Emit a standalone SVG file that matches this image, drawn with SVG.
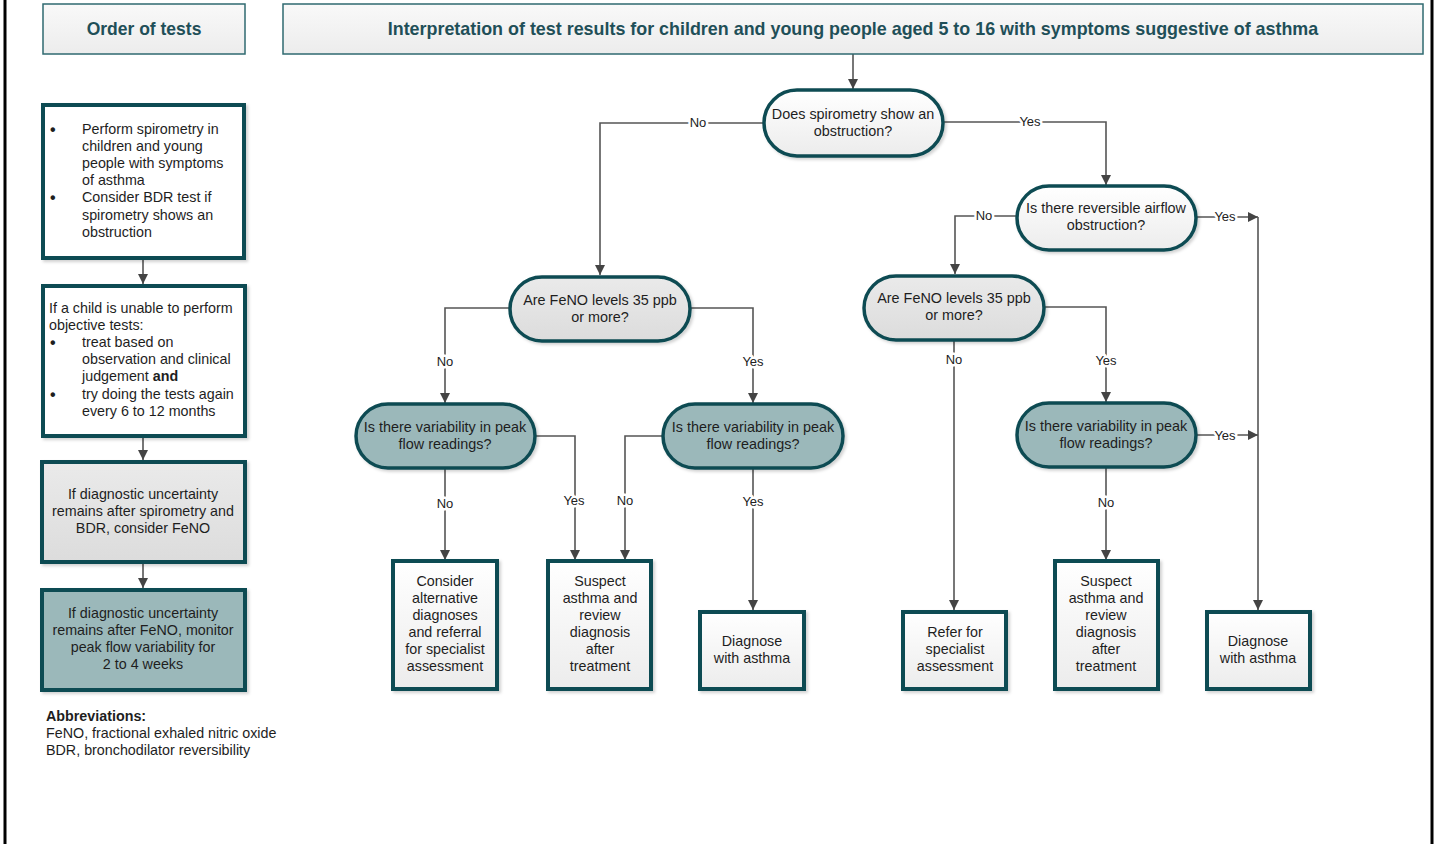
<svg xmlns="http://www.w3.org/2000/svg" width="1435" height="844" viewBox="0 0 1435 844">
<defs>
  <linearGradient id="gLight" x1="0" y1="0" x2="0" y2="1">
    <stop offset="0" stop-color="#ffffff"/>
    <stop offset="1" stop-color="#ececec"/>
  </linearGradient>
  <linearGradient id="gGray" x1="0" y1="0" x2="0" y2="1">
    <stop offset="0" stop-color="#eaeaea"/>
    <stop offset="1" stop-color="#dcdcdc"/>
  </linearGradient>
  <linearGradient id="gHead" x1="0" y1="0" x2="0" y2="1">
    <stop offset="0" stop-color="#f9f9f9"/>
    <stop offset="1" stop-color="#ececec"/>
  </linearGradient>
  <filter id="sh" x="-10%" y="-10%" width="130%" height="130%">
    <feDropShadow dx="2" dy="2" stdDeviation="1.5" flood-color="#000" flood-opacity="0.18"/>
  </filter>
  <marker id="ar" viewBox="0 0 10 10" refX="10" refY="5" markerWidth="10" markerHeight="10" markerUnits="userSpaceOnUse" orient="auto">
    <path d="M0,0 L10,5 L0,10 z" fill="#444"/>
  </marker>
</defs>
<style>
  text { font-family: "Liberation Sans", Arial, sans-serif; fill: #1e1e1e; }
  .t { font-size: 14.4px; text-anchor: middle; }
  .l { font-size: 14.3px; }
  .lc { font-size: 14.3px; text-anchor: middle; }
  .bul { font-size: 16px; font-weight: bold; }
  .head { font-size: 17.5px; font-weight: bold; fill: #1f4f58; text-anchor: middle; }
  .hbox { fill: url(#gHead); stroke: #2f6a70; stroke-width: 1.5; }
  .box { stroke: #0f4b52; stroke-width: 4; filter: url(#sh); }
  .pill { stroke: #0f4b52; stroke-width: 3.5; filter: url(#sh); }
  .white { fill: #ffffff; }
  .light { fill: url(#gLight); }
  .gray { fill: url(#gGray); }
  .teal { fill: #9bb8ba; }
  .ca { fill: none; stroke: #555; stroke-width: 1.6; marker-end: url(#ar); }
  .lab { font-size: 13px; text-anchor: middle; fill: #222; stroke: #fff; stroke-width: 5; paint-order: stroke; stroke-linejoin: round; }
</style>
<rect x="0" y="0" width="1435" height="844" fill="#fff"/>
<line x1="5" y1="0" x2="5" y2="844" stroke="#000" stroke-width="3"/>
<line x1="1432" y1="0" x2="1432" y2="844" stroke="#000" stroke-width="3"/>

<g id="connectors">
  <line class="ca" x1="143" y1="259" x2="143" y2="284"/>
  <line class="ca" x1="143" y1="437" x2="143" y2="460"/>
  <line class="ca" x1="143" y1="563" x2="143" y2="588"/>
  <line class="ca" x1="853" y1="54" x2="853" y2="89"/>
  <path class="ca" d="M764,123 H600 V275"/>
  <path class="ca" d="M943,122 H1106 V185"/>
  <path class="ca" d="M1017,216 H955 V274"/>
  <path class="ca" d="M1196,217 H1258"/>
  <path class="ca" d="M1258,217 V610"/>
  <path class="ca" d="M510,308 H445 V403"/>
  <path class="ca" d="M690,308 H753 V403"/>
  <path class="ca" d="M954,340 V610"/>
  <path class="ca" d="M1044,307 H1106 V402"/>
  <path class="ca" d="M445,468 V560"/>
  <path class="ca" d="M535,436 H575 V560"/>
  <path class="ca" d="M663,436 H625 V560"/>
  <path class="ca" d="M753,468 V610"/>
  <path class="ca" d="M1196,435 H1258"/>
  <path class="ca" d="M1106,467 V560"/>
  <text class="lab" x="698" y="127">No</text>
  <text class="lab" x="1030" y="126">Yes</text>
  <text class="lab" x="984" y="220">No</text>
  <text class="lab" x="1225" y="221">Yes</text>
  <text class="lab" x="445" y="366">No</text>
  <text class="lab" x="753" y="366">Yes</text>
  <text class="lab" x="954" y="364">No</text>
  <text class="lab" x="1106" y="365">Yes</text>
  <text class="lab" x="445" y="508">No</text>
  <text class="lab" x="574" y="505">Yes</text>
  <text class="lab" x="625" y="505">No</text>
  <text class="lab" x="753" y="506">Yes</text>
  <text class="lab" x="1225" y="440">Yes</text>
  <text class="lab" x="1106" y="507">No</text>
</g>

<g id="header-order">
  <rect class="hbox" x="43" y="4" width="202" height="50"/>
  <text class="head" x="144" y="35">Order of tests</text>
</g>
<g id="header-title">
  <rect class="hbox" x="283" y="4" width="1140" height="50"/>
  <text class="head" x="853" y="35" style="font-size:17.9px">Interpretation of test results for children and young people aged 5 to 16 with symptoms suggestive of asthma</text>
</g>

<g id="step1">
  <rect class="box white" x="43" y="105" width="201" height="153"/>
  <text class="bul" x="50" y="135">•</text>
  <text class="l" x="82" y="134">Perform spirometry in</text>
  <text class="l" x="82" y="151">children and young</text>
  <text class="l" x="82" y="168">people with symptoms</text>
  <text class="l" x="82" y="185">of asthma</text>
  <text class="bul" x="50" y="203">•</text>
  <text class="l" x="82" y="202">Consider BDR test if</text>
  <text class="l" x="82" y="220">spirometry shows an</text>
  <text class="l" x="82" y="237">obstruction</text>
</g>
<g id="step2">
  <rect class="box white" x="43" y="286" width="202" height="150"/>
  <text class="l" x="49" y="313">If a child is unable to perform</text>
  <text class="l" x="49" y="330">objective tests:</text>
  <text class="bul" x="50" y="348">•</text>
  <text class="l" x="82" y="347">treat based on</text>
  <text class="l" x="82" y="364">observation and clinical</text>
  <text class="l" x="82" y="381">judgement <tspan font-weight="bold">and</tspan></text>
  <text class="bul" x="50" y="400">•</text>
  <text class="l" x="82" y="399">try doing the tests again</text>
  <text class="l" x="82" y="416">every 6 to 12 months</text>
</g>
<g id="step3">
  <rect class="box gray" x="42" y="462" width="203" height="100"/>
  <text class="lc" x="143" y="499">If diagnostic uncertainty</text>
  <text class="lc" x="143" y="516">remains after spirometry and</text>
  <text class="lc" x="143" y="533">BDR, consider FeNO</text>
</g>
<g id="step4">
  <rect class="box teal" x="42" y="590" width="203" height="100"/>
  <text class="lc" x="143" y="618">If diagnostic uncertainty</text>
  <text class="lc" x="143" y="635">remains after FeNO, monitor</text>
  <text class="lc" x="143" y="652">peak flow variability for</text>
  <text class="lc" x="143" y="669">2 to 4 weeks</text>
</g>
<g id="abbreviations">
  <text class="l" x="46" y="721" font-weight="bold">Abbreviations:</text>
  <text class="l" x="46" y="738">FeNO, fractional exhaled nitric oxide</text>
  <text class="l" x="46" y="755">BDR, bronchodilator reversibility</text>
</g>

<g id="d1">
  <rect class="pill light" x="764" y="90" width="179" height="66" rx="33"/>
  <text class="t" x="853" y="119">Does spirometry show an</text>
  <text class="t" x="853" y="136">obstruction?</text>
</g>
<g id="d2">
  <rect class="pill light" x="1017" y="186" width="179" height="64" rx="32"/>
  <text class="t" x="1106" y="213">Is there reversible airflow</text>
  <text class="t" x="1106" y="230">obstruction?</text>
</g>
<g id="feno1">
  <rect class="pill gray" x="510" y="277" width="180" height="64" rx="32"/>
  <text class="t" x="600" y="305">Are FeNO levels 35 ppb</text>
  <text class="t" x="600" y="322">or more?</text>
</g>
<g id="feno2">
  <rect class="pill gray" x="864" y="276" width="180" height="64" rx="32"/>
  <text class="t" x="954" y="303">Are FeNO levels 35 ppb</text>
  <text class="t" x="954" y="320">or more?</text>
</g>
<g id="v1">
  <rect class="pill teal" x="356" y="404" width="179" height="64" rx="32"/>
  <text class="t" x="445" y="432">Is there variability in peak</text>
  <text class="t" x="445" y="449">flow readings?</text>
</g>
<g id="v2">
  <rect class="pill teal" x="663" y="404" width="180" height="64" rx="32"/>
  <text class="t" x="753" y="432">Is there variability in peak</text>
  <text class="t" x="753" y="449">flow readings?</text>
</g>
<g id="v3">
  <rect class="pill teal" x="1017" y="403" width="179" height="64" rx="32"/>
  <text class="t" x="1106" y="431">Is there variability in peak</text>
  <text class="t" x="1106" y="448">flow readings?</text>
</g>

<g id="b1">
  <rect class="box light" x="393" y="561" width="104" height="128"/>
  <text class="lc" x="445" y="586">Consider</text>
  <text class="lc" x="445" y="603">alternative</text>
  <text class="lc" x="445" y="620">diagnoses</text>
  <text class="lc" x="445" y="637">and referral</text>
  <text class="lc" x="445" y="654">for specialist</text>
  <text class="lc" x="445" y="671">assessment</text>
</g>
<g id="b2">
  <rect class="box light" x="548" y="561" width="103" height="128"/>
  <text class="lc" x="600" y="586">Suspect</text>
  <text class="lc" x="600" y="603">asthma and</text>
  <text class="lc" x="600" y="620">review</text>
  <text class="lc" x="600" y="637">diagnosis</text>
  <text class="lc" x="600" y="654">after</text>
  <text class="lc" x="600" y="671">treatment</text>
</g>
<g id="b3">
  <rect class="box light" x="700" y="612" width="104" height="77"/>
  <text class="lc" x="752" y="646">Diagnose</text>
  <text class="lc" x="752" y="663">with asthma</text>
</g>
<g id="b4">
  <rect class="box light" x="903" y="612" width="103" height="77"/>
  <text class="lc" x="955" y="637">Refer for</text>
  <text class="lc" x="955" y="654">specialist</text>
  <text class="lc" x="955" y="671">assessment</text>
</g>
<g id="b5">
  <rect class="box light" x="1055" y="561" width="103" height="128"/>
  <text class="lc" x="1106" y="586">Suspect</text>
  <text class="lc" x="1106" y="603">asthma and</text>
  <text class="lc" x="1106" y="620">review</text>
  <text class="lc" x="1106" y="637">diagnosis</text>
  <text class="lc" x="1106" y="654">after</text>
  <text class="lc" x="1106" y="671">treatment</text>
</g>
<g id="b6">
  <rect class="box light" x="1207" y="612" width="103" height="77"/>
  <text class="lc" x="1258" y="646">Diagnose</text>
  <text class="lc" x="1258" y="663">with asthma</text>
</g>
</svg>
